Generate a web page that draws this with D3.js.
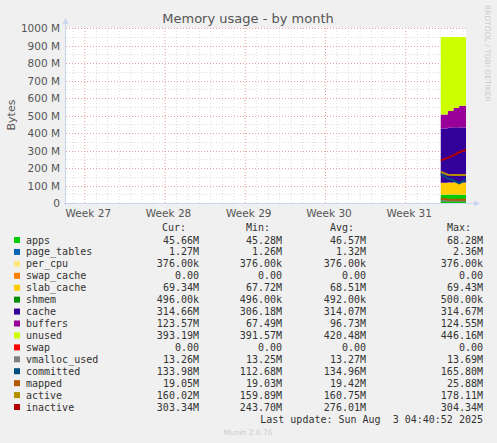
<!DOCTYPE html>
<html>
<head>
<meta charset="utf-8">
<script src="https://cdn.jsdelivr.net/npm/d3@7"></script>
<style>
  body { margin: 0; background: #f0f0f0; }
  svg { display: block; }
  text { font-family: "DejaVu Sans", sans-serif; }
  .mono { font-family: "DejaVu Sans Mono", monospace; font-size: 10px; fill: #333; }
</style>
</head>
<body>
<svg id="chart" width="497" height="443"></svg>
<script>
(function (d3) {
    'use strict';

    /* Sample times in days since the start of the graph window. */
    var days = [31.1, 31.7, 32.2, 32.7, 33.3];

    var weekLabels = ['Week 27', 'Week 28', 'Week 29', 'Week 30', 'Week 31'];
    var weekStarts = [0, 7, 14, 21, 28];
    var yTicks = [0, 100, 200, 300, 400, 500, 600, 700, 800, 900, 1000];

    /* Stacked series, values in MB. */
    var apps = [45.3, 46.0, 46.8, 47.5, 45.7];
    var pageTables = [1.26, 1.27, 1.3, 1.32, 1.27];
    var perCpu = [0.376, 0.376, 0.376, 0.376, 0.376];
    var swapCache = [0, 0, 0, 0, 0];
    var slabCache = [67.7, 68.2, 68.6, 69.0, 69.3];
    var shmem = [0.496, 0.49, 0.49, 0.5, 0.496];
    var cache = [306.2, 310.0, 313.0, 314.5, 314.7];
    var buffers = [67.5, 80.0, 95.0, 110.0, 123.6];
    var unused = [459.2, 441.7, 422.4, 404.8, 392.6];
    var swap = [0, 0, 0, 0, 0];

    /* Line series, values in MB. */
    var vmallocUsed = [13.7, 13.3, 13.25, 13.3, 13.26];
    var committed = [165.8, 140.0, 130.0, 112.7, 134.0];
    var mapped = [25.9, 19.5, 19.1, 19.03, 19.05];
    var active = [178.1, 162.0, 160.0, 159.9, 160.0];
    var inactive = [243.7, 258.0, 272.0, 290.0, 303.3];

    var names = ['apps', 'page_tables', 'per_cpu', 'swap_cache', 'slab_cache', 'shmem',
        'cache', 'buffers', 'unused', 'swap', 'vmalloc_used', 'committed', 'mapped',
        'active', 'inactive'];
    var colors = ['#00cc00', '#0066b3', '#ffe680', '#ff8000', '#ffcc00', '#008f00',
        '#330099', '#990099', '#ccff00', '#ff0000', '#808080', '#004d80', '#b35a00',
        '#b38f00', '#b30000'];
    var curCol = ['45.66M', '1.27M', '376.00k', '0.00', '69.34M', '496.00k', '314.66M',
        '123.57M', '393.19M', '0.00', '13.26M', '133.98M', '19.05M', '160.02M', '303.34M'];
    var minCol = ['45.28M', '1.26M', '376.00k', '0.00', '67.72M', '496.00k', '306.18M',
        '67.49M', '391.57M', '0.00', '13.25M', '112.68M', '19.03M', '159.89M', '243.70M'];
    var avgCol = ['46.57M', '1.32M', '376.00k', '0.00', '68.51M', '492.00k', '314.07M',
        '96.73M', '420.48M', '0.00', '13.27M', '134.96M', '19.42M', '160.75M', '276.01M'];
    var maxCol = ['68.28M', '2.36M', '376.00k', '0.00', '69.43M', '500.00k', '314.67M',
        '124.55M', '446.16M', '0.00', '13.69M', '165.80M', '25.88M', '178.11M', '304.34M'];

    var stacked = [apps, pageTables, perCpu, swapCache, slabCache, shmem, cache, buffers, unused, swap];
    var lines = [vmallocUsed, committed, mapped, active, inactive];

    var svg = d3.select('#chart');
    var left = 66, right = 466, top = 28, bottom = 203;

    var x = d3.scaleLinear().domain([-1.6, 33.3]).range([left, right]);
    var y = d3.scaleLinear().domain([0, 1000]).range([bottom, top]);

    svg.append('rect').attr('x', left).attr('y', top)
        .attr('width', right - left).attr('height', bottom - top).attr('fill', '#fff');

    /* Minor grid. */
    var g = svg.append('g');
    d3.range(-1, 34).forEach(function (d) {
        if (weekStarts.indexOf(d) >= 0) { return; }
        g.append('line').attr('x1', x(d) + 0.5).attr('x2', x(d) + 0.5)
            .attr('y1', top).attr('y2', bottom)
            .attr('stroke', '#ddd').attr('stroke-dasharray', '1,2');
    });
    d3.range(0, 1000, 50).forEach(function (v) {
        if (v % 100 === 0) { return; }
        g.append('line').attr('x1', left).attr('x2', right)
            .attr('y1', Math.round(y(v)) + 0.5).attr('y2', Math.round(y(v)) + 0.5)
            .attr('stroke', '#ddd').attr('stroke-dasharray', '1,2');
    });
    /* Major grid. */
    weekStarts.forEach(function (d) {
        g.append('line').attr('x1', x(d) + 0.5).attr('x2', x(d) + 0.5)
            .attr('y1', top).attr('y2', bottom)
            .attr('stroke', '#e8a0a0').attr('stroke-dasharray', '1,2');
    });
    yTicks.slice(1).forEach(function (v) {
        g.append('line').attr('x1', left).attr('x2', right)
            .attr('y1', Math.round(y(v)) + 0.5).attr('y2', Math.round(y(v)) + 0.5)
            .attr('stroke', '#e8a0a0').attr('stroke-dasharray', '1,2');
    });

    /* Stacked areas. */
    var rows = days.map(function (d, i) {
        var r = { t: d };
        stacked.forEach(function (s, k) { r[k] = s[i]; });
        return r;
    });
    var stack = d3.stack().keys(d3.range(stacked.length))(rows);
    var area = d3.area().curve(d3.curveStepBefore)
        .x(function (d) { return x(d.data.t); })
        .y0(function (d) { return y(d[0]); })
        .y1(function (d) { return y(d[1]); });
    svg.append('g').selectAll('path').data(stack).enter().append('path')
        .attr('d', area).attr('fill', function (d, i) { return colors[i]; });

    var line = d3.line()
        .x(function (d, i) { return x(days[i]); })
        .y(function (d) { return y(d); });
    svg.append('g').selectAll('path').data(lines).enter().append('path')
        .attr('d', line).attr('fill', 'none').attr('stroke-width', 2)
        .attr('stroke', function (d, i) { return colors[10 + i]; });

    /* Axes. */
    svg.append('line').attr('x1', left - 0.5).attr('x2', left - 0.5)
        .attr('y1', bottom + 2).attr('y2', top - 6).attr('stroke', '#ccd4f4');
    svg.append('line').attr('x1', left - 2).attr('x2', right + 10)
        .attr('y1', bottom + 0.5).attr('y2', bottom + 0.5).attr('stroke', '#ccd4f4');
    svg.append('path').attr('d', 'M' + (left - 3.5) + ',' + (top - 4) + 'l3,-6l3,6z').attr('fill', '#ccd4f4');
    svg.append('path').attr('d', 'M' + (right + 8) + ',' + (bottom - 2.5) + 'l6,3l-6,3z').attr('fill', '#ccd4f4');

    svg.append('g').selectAll('text').data(yTicks).enter().append('text')
        .attr('x', left - 6).attr('y', function (v) { return y(v) + 4; })
        .attr('text-anchor', 'end').attr('font-size', 10.5).attr('fill', '#555')
        .text(function (v) { return v === 0 ? '0' : v + ' M'; });
    svg.append('g').selectAll('text').data(weekLabels).enter().append('text')
        .attr('x', function (d, i) { return x(weekStarts[i]) + 4; })
        .attr('y', bottom + 14).attr('text-anchor', 'middle')
        .attr('font-size', 10.5).attr('fill', '#555')
        .text(function (d) { return d; });

    svg.append('text').attr('x', 248).attr('y', 23).attr('text-anchor', 'middle')
        .attr('font-size', 13).attr('fill', '#555').text('Memory usage - by month');
    svg.append('text').attr('transform', 'translate(15,115) rotate(-90)')
        .attr('text-anchor', 'middle').attr('font-size', 11).attr('fill', '#555').text('Bytes');
    svg.append('text').attr('transform', 'translate(485,5) rotate(90)')
        .attr('font-size', 7.5).attr('fill', '#ccc').text('RRDTOOL / TOBI OETIKER');

    /* Legend. */
    var leg = svg.append('g');
    [['Cur:', 186], ['Min:', 270], ['Avg:', 354], ['Max:', 471]].forEach(function (h) {
        leg.append('text').attr('class', 'mono').attr('x', h[1]).attr('y', 231)
            .attr('text-anchor', 'end').text(h[0]);
    });
    names.forEach(function (n, i) {
        var yy = 240 + i * 11.93;
        leg.append('rect').attr('x', 14).attr('y', yy - 3).attr('width', 6).attr('height', 6)
            .attr('fill', colors[i]);
        leg.append('text').attr('class', 'mono').attr('x', 26).attr('y', yy + 3.5).text(n);
        [[curCol, 199], [minCol, 282], [avgCol, 366], [maxCol, 483]].forEach(function (c) {
            leg.append('text').attr('class', 'mono').attr('x', c[1]).attr('y', yy + 3.5)
                .attr('text-anchor', 'end').text(c[0][i]);
        });
    });
    leg.append('text').attr('class', 'mono').attr('x', 483).attr('y', 423)
        .attr('text-anchor', 'end').text('Last update: Sun Aug  3 04:40:52 2025').attr('xml:space', 'preserve');
    svg.append('text').attr('x', 248).attr('y', 435).attr('text-anchor', 'middle')
        .attr('font-size', 7.5).attr('fill', '#ccc').text('Munin 2.0.76');
}).call(this, d3);
</script>
</body>
</html>
